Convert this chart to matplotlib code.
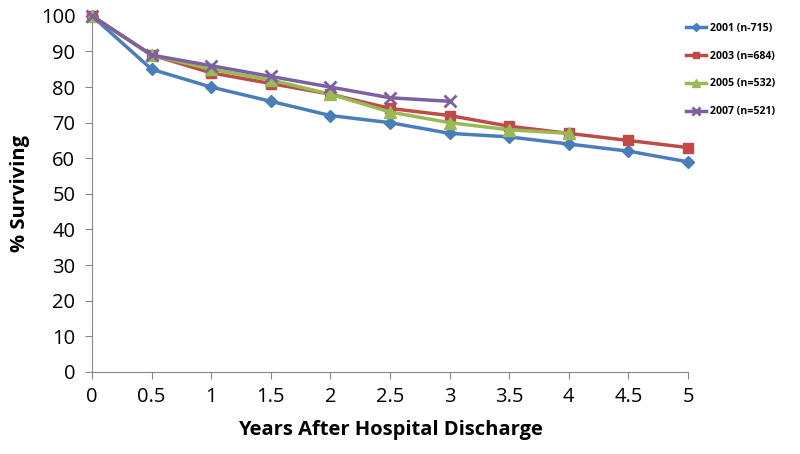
import matplotlib
matplotlib.use("Agg")
from matplotlib import pyplot as plt

plt.rcParams['font.family'] = ['Open Sans', 'DejaVu Sans']

# -- DATA --:
years = [0, 0.5, 1, 1.5, 2, 2.5, 3, 3.5, 4, 4.5, 5]
surv_2001 = [100, 85, 80, 76, 72, 70, 67, 66, 64, 62, 59]
surv_2003 = [100, 89, 84, 81, 78, 74, 72, 69, 67, 65, 63]
surv_2005 = [100, 89, 85, 82, 78, 73, 70, 68, 67]
surv_2007 = [100, 89, 86, 83, 80, 77, 76]
labels = ["2001 (n-715)", "2003 (n=684)", "2005 (n=532)", "2007 (n=521)"]
x_ticks = [0, 0.5, 1, 1.5, 2, 2.5, 3, 3.5, 4, 4.5, 5]
y_ticks = list(range(0, 101, 10))

# -- PLOTTING --:
fig = plt.figure(figsize=(8, 4.54), dpi=100)
ax = fig.add_axes([0.115, 0.181, 0.745, 0.784])

series = [
    (surv_2001, "#4A7EBB", "D", 6),
    (surv_2003, "#BE4B48", "s", 7),
    (surv_2005, "#98B954", "^", 8),
    (surv_2007, "#7D60A0", "x", 8),
]
for (vals, col, mk, ms), lab in zip(series, labels):
    ax.plot(years[:len(vals)], vals, color=col, lw=2.5, marker=mk, ms=ms,
            mew=2 if mk == "x" else 1, label=lab, clip_on=False, zorder=3)

ax.set_xlim(0, 5)
ax.set_ylim(0, 100)
ax.set_xticks(x_ticks)
ax.set_xticklabels([f"{t:g}" for t in x_ticks])
ax.set_yticks(y_ticks)
for s in ["top", "right"]:
    ax.spines[s].set_visible(False)
for s in ["left", "bottom"]:
    ax.spines[s].set_color("#868686")
ax.tick_params(colors="#868686", labelcolor="black", labelsize=14.5, length=5)
ax.tick_params(axis="x", pad=6)
ax.tick_params(axis="y", pad=7)
ax.set_xlabel("Years After Hospital Discharge", fontsize=14.5,
              fontweight="bold", labelpad=9)
ax.set_ylabel("% Surviving", fontsize=14.5, fontweight="bold", labelpad=8)

fig.legend(loc="upper left", bbox_to_anchor=(0.858, 0.95), frameon=False,
           prop={"size": 7.6, "weight": "bold"}, handlelength=1.9,
           handletextpad=0.3, borderpad=0, borderaxespad=0,
           labelspacing=1.6, markerscale=0.7)

fig.savefig("out.png", dpi=100)
